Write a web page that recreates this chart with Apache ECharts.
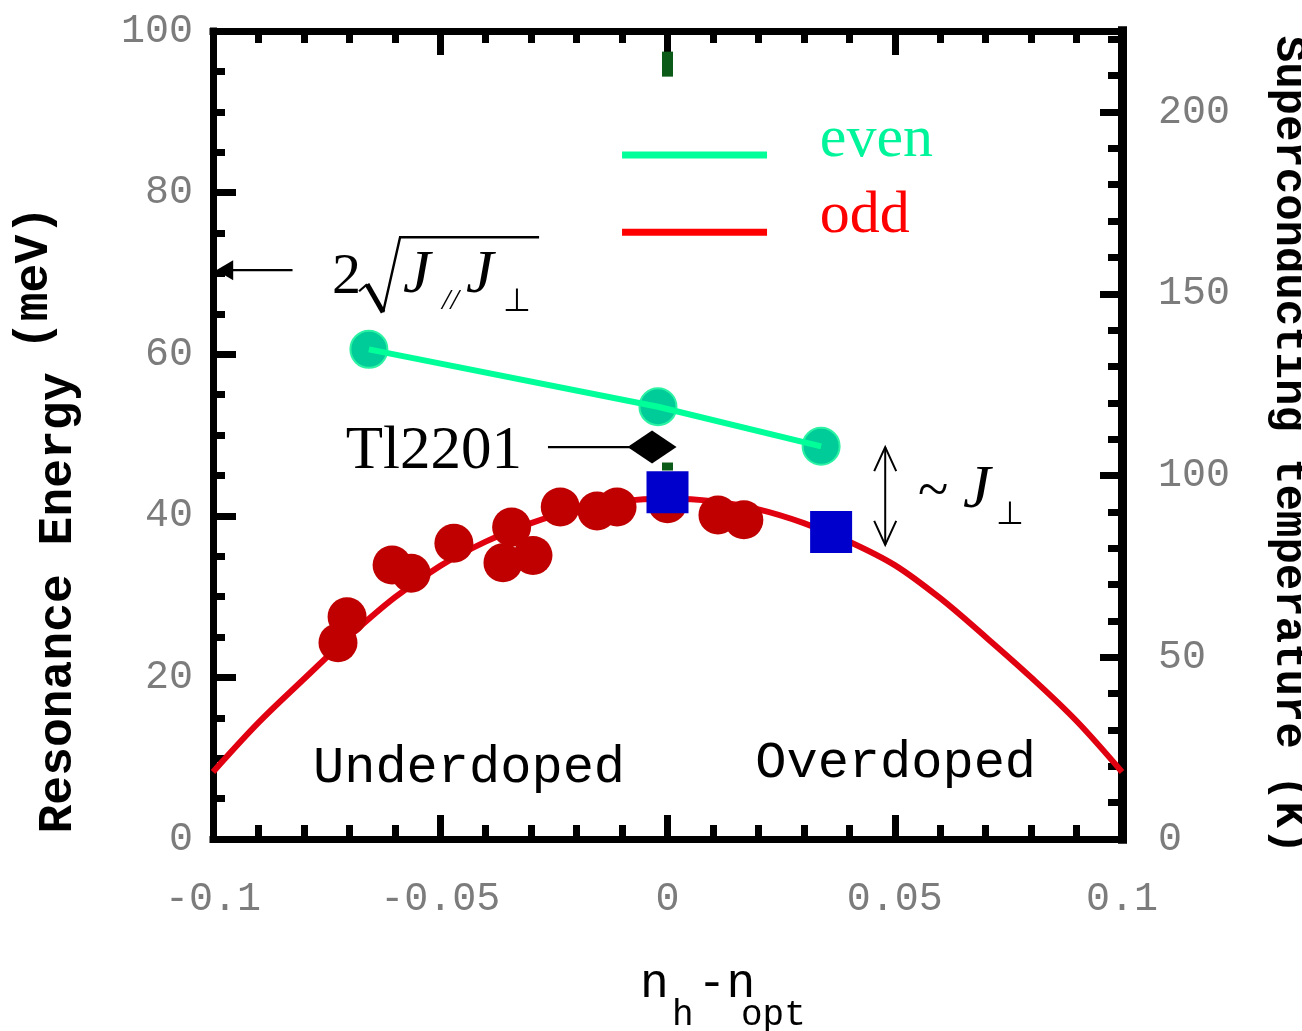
<!DOCTYPE html>
<html>
<head>
<meta charset="utf-8">
<script src="https://cdn.jsdelivr.net/npm/echarts@6/dist/echarts.min.js"></script>
<style>
  html, body { margin: 0; padding: 0; background: #ffffff; }
  #chart { width: 1302px; height: 1031px; }
</style>
</head>
<body>
<div id="chart"></div>
<script>
// Doping relative to optimal (n_h - n_opt) and resonance energies in meV

// Smooth odd-mode curve across the dome
const fitDoping = [-0.1, -0.09, -0.08, -0.07, -0.06, -0.05, -0.04, -0.03, -0.02, -0.01, 0,
                   0.01, 0.02, 0.03, 0.04, 0.05, 0.06, 0.07, 0.08, 0.09, 0.1];
const fitEnergy = [8.3, 14.4, 19.8, 25.1, 29.9, 33.8, 36.8, 39.1, 40.8, 41.8, 42.1,
                   41.8, 40.8, 39.1, 36.8, 33.9, 29.8, 25.0, 20.0, 14.6, 8.3];

// Odd-mode measurements (YBCO)
const oddDoping = [-0.0705, -0.0725, -0.0606, -0.0564, -0.047, -0.0343, -0.0362, -0.0296,
                   -0.0236, -0.0155, -0.0111, 0.0, 0.0111, 0.0168];
const oddEnergy = [27.5, 24.3, 33.9, 32.9, 36.6, 38.6, 34.2, 35.1,
                   41.1, 40.6, 41.1, 41.5, 40.1, 39.5];

// Even-mode measurements
const evenDoping = [-0.0657, -0.0021, 0.0338];
const evenEnergy = [60.6, 53.5, 48.6];

// Bi2212 odd-mode points
const squareDoping = [0.0, 0.036];
const squareEnergy = [42.9, 38.0];

// Tl2201 point
const tlDoping = [-0.0034];
const tlEnergy = [48.5];

// Short dark-green marks at optimal doping
const markDoping = [0, 0];
const markEnergy = [95.9, 46.1];

// Axis ticks
const dopingTicks = [-0.1, -0.05, 0, 0.05, 0.1];
const energyTicks = [0, 20, 40, 60, 80, 100];
const tcTicks = [0, 50, 100, 150, 200];
const tcMax = 222.3;   // Tc scale top, aligned with 100 meV

const pairs = (xs, ys) => xs.map((x, i) => [x, ys[i]]);

const mono = '"Liberation Mono", "DejaVu Sans Mono", monospace';
const serif = '"Liberation Serif", "Times New Roman", serif';
const labelGray = '#7c7c7c';

const chart = echarts.init(document.getElementById('chart'), null, { renderer: 'canvas' });

const frameLine = (w) => ({ show: true, onZero: false, lineStyle: { color: '#000', width: w, cap: 'square' } });
const majorTick = (len) => ({ show: true, inside: true, length: len, lineStyle: { color: '#000', width: 7 } });
const minorTick = (n, len) => ({ show: true, splitNumber: n, length: len, lineStyle: { color: '#000', width: 7 } });

const option = {
  animation: false,
  backgroundColor: '#ffffff',
  grid: [
    { left: 213, right: 180, top: 31, bottom: 192, containLabel: false, outerBoundsMode: 'none' },
    { left: 213, right: 180, top: 31, bottom: 192, containLabel: false, outerBoundsMode: 'none' }
  ],
  xAxis: [
    {
      type: 'value', gridIndex: 0, position: 'bottom',
      min: dopingTicks[0], max: dopingTicks[dopingTicks.length - 1], interval: 0.05,
      axisLine: frameLine(7), axisTick: majorTick(24), minorTick: minorTick(5, 14),
      splitLine: { show: false }, minorSplitLine: { show: false },
      axisLabel: { show: true, margin: 40, color: labelGray, fontFamily: mono, fontSize: 40,
                   showMinLabel: true, showMaxLabel: true, hideOverlap: false }
    },
    {
      type: 'value', gridIndex: 0, position: 'top',
      min: dopingTicks[0], max: dopingTicks[dopingTicks.length - 1], interval: 0.05,
      axisLine: frameLine(7), axisTick: majorTick(24), minorTick: minorTick(5, 12),
      splitLine: { show: false }, minorSplitLine: { show: false },
      axisLabel: { show: false }
    },
    {
      type: 'value', gridIndex: 1, position: 'bottom', show: false,
      axisLine: { onZero: false },
      min: dopingTicks[0], max: dopingTicks[dopingTicks.length - 1]
    }
  ],
  yAxis: [
    {
      type: 'value', gridIndex: 0, position: 'left',
      min: energyTicks[0], max: energyTicks[energyTicks.length - 1], interval: 20,
      axisLine: frameLine(7), axisTick: majorTick(23), minorTick: minorTick(4, 12),
      splitLine: { show: false }, minorSplitLine: { show: false },
      axisLabel: { show: true, margin: 20, color: labelGray, fontFamily: mono, fontSize: 40,
                   showMinLabel: true, showMaxLabel: true }
    },
    {
      // 10 K minor ticks on the Tc scale
      type: 'value', gridIndex: 0, position: 'right',
      min: 0, max: tcMax, interval: 10,
      axisLine: frameLine(9), axisTick: majorTick(14),
      splitLine: { show: false }, axisLabel: { show: false }
    },
    {
      // 50 K major ticks and labels on the Tc scale
      type: 'value', gridIndex: 1, position: 'right',
      min: 0, max: tcMax, interval: 50,
      axisLine: frameLine(9), axisTick: majorTick(22),
      splitLine: { show: false },
      axisLabel: {
        show: true, margin: 36, color: labelGray, fontFamily: mono, fontSize: 40,
        showMinLabel: true, showMaxLabel: true,
        formatter: (v) => (tcTicks.indexOf(Math.round(v * 1000) / 1000) >= 0 ? String(v) : '')
      }
    }
  ],
  series: [
    {
      name: 'odd fit', type: 'line', xAxisIndex: 0, yAxisIndex: 0,
      data: pairs(fitDoping, fitEnergy), smooth: 0.35, showSymbol: false, clip: true,
      lineStyle: { color: '#e0000f', width: 6 }, z: 2, silent: true
    },
    {
      name: 'odd', type: 'scatter', xAxisIndex: 0, yAxisIndex: 0,
      data: pairs(oddDoping, oddEnergy), symbol: 'circle', symbolSize: 39,
      itemStyle: { color: '#c00000', opacity: 1 }, z: 3, silent: true
    },
    {
      name: 'even points', type: 'scatter', xAxisIndex: 0, yAxisIndex: 0,
      data: pairs(evenDoping, evenEnergy), symbol: 'circle', symbolSize: 37,
      itemStyle: { color: '#00cc99', borderColor: '#2cf2a4', borderWidth: 2, opacity: 1 }, z: 3, silent: true
    },
    {
      name: 'even', type: 'line', xAxisIndex: 0, yAxisIndex: 0,
      data: pairs(evenDoping, evenEnergy), showSymbol: false,
      lineStyle: { color: '#00ff99', width: 6 }, z: 4, silent: true
    },
    {
      name: 'optimal mark', type: 'scatter', xAxisIndex: 0, yAxisIndex: 0,
      data: pairs(markDoping, markEnergy), symbol: 'rect', symbolSize: (v, p) => (p.dataIndex === 0 ? [11, 25] : [11, 8]),
      itemStyle: { color: '#0b5a17', opacity: 1 }, z: 4, silent: true
    },
    {
      name: 'Bi2212', type: 'scatter', xAxisIndex: 0, yAxisIndex: 0,
      data: pairs(squareDoping, squareEnergy), symbol: 'rect', symbolSize: 42,
      itemStyle: { color: '#0000cc', opacity: 1 }, z: 5, silent: true
    },
    {
      name: 'Tl2201', type: 'scatter', xAxisIndex: 0, yAxisIndex: 0,
      data: pairs(tlDoping, tlEnergy), symbol: 'diamond', symbolSize: [49, 33],
      itemStyle: { color: '#000000', opacity: 1 }, z: 6, silent: true
    }
  ]
};

chart.setOption(option);

// Annotations placed from data coordinates
const px = (x, e) => chart.convertToPixel({ seriesIndex: 0 }, [x, e]);
const g = [];
function txt(x, y, s, font, fill, align, extra) {
  g.push(Object.assign({
    type: 'text', x: x, y: y, z: 20, silent: true,
    style: { text: s, font: font, fill: fill || '#000', textAlign: align || 'left', textVerticalAlign: 'middle' }
  }, extra || {}));
}
function seg(x1, y1, x2, y2, w, color) {
  g.push({ type: 'line', z: 20, silent: true, shape: { x1, y1, x2, y2 },
           style: { stroke: color || '#000', lineWidth: w } });
}
function poly(points, w, closed) {
  g.push({ type: closed ? 'polygon' : 'polyline', z: 20, silent: true, shape: { points },
           style: closed ? { fill: '#000' } : { stroke: '#000', lineWidth: w, fill: null } });
}

// Legend
const lg1a = px(-0.01, 84.65), lg1b = px(0.0219, 84.65);
const lg2a = px(-0.01, 75.1), lg2b = px(0.0219, 75.1);
seg(lg1a[0], lg1a[1], lg1b[0], lg1b[1], 7, '#00ff99');
seg(lg2a[0], lg2a[1], lg2b[0], lg2b[1], 7, '#ff0000');
const lt1 = px(0.0335, 86.5), lt2 = px(0.0335, 77.1);
txt(lt1[0], lt1[1], 'even', '60px ' + serif, '#00f59a');
txt(lt2[0], lt2[1], 'odd', '60px ' + serif, '#ff0000');

// Arrow to 2*sqrt(J// J_perp) on the energy axis
const at = px(-0.0825, 70.4), ah = px(-0.0993, 70.4);
seg(at[0], at[1], ah[0] + 12, ah[1], 2.2);
poly([[ah[0], ah[1]], [ah[0] + 17, ah[1] - 10], [ah[0] + 17, ah[1] + 10]], 0, true);

// 2 sqrt(J// J_perp)
const f0 = px(-0.0738, 69.4);
txt(f0[0], f0[1], '2', '58px ' + serif);
poly([[f0[0] + 27, f0[1] + 13], [f0[0] + 35, f0[1] + 6]], 2.2);
poly([[f0[0] + 35, f0[1] + 6], [f0[0] + 51, f0[1] + 34]], 5);
poly([[f0[0] + 51, f0[1] + 34], [f0[0] + 68, f0[1] - 41], [f0[0] + 207, f0[1] - 41]], 2.4);
txt(f0[0] + 71, f0[1] - 3, 'J', 'italic 62px ' + serif);
txt(f0[0] + 110, f0[1] + 23, '//', 'italic 30px ' + serif);
txt(f0[0] + 134, f0[1] - 3, 'J', 'italic 62px ' + serif);
txt(f0[0] + 171, f0[1] + 24, '\u22A5', '32px "DejaVu Sans", sans-serif');

// Tl2201 label with pointer
const tlText = px(-0.032, 47.9);
txt(tlText[0], tlText[1], 'Tl2201', '61px ' + serif, '#000', 'right');
const tp1 = px(-0.0263, 48.5), tp2 = px(tlDoping[0], tlEnergy[0]);
seg(tp1[0], tp1[1], tp2[0] - 16, tp2[1], 2.2);

// Double arrow ~ J_perp between modes
const da = px(0.0479, 48.5), db = px(0.0479, 36.4);
seg(da[0], da[1], db[0], db[1], 2);
poly([[da[0] - 11, da[1] + 24], [da[0], da[1]], [da[0] + 11, da[1] + 24]], 2);
poly([[db[0] - 11, db[1] - 24], [db[0], db[1]], [db[0] + 11, db[1] - 24]], 2);
const jt = px(0.0551, 42.6);
txt(jt[0], jt[1] - 1, '~', '56px ' + serif);
txt(jt[0] + 45, jt[1] - 4, 'J', 'italic 62px ' + serif);
txt(jt[0] + 78, jt[1] + 21, '\u22A5', '32px "DejaVu Sans", sans-serif');

// Doping regions
const ud = px(-0.078, 8.8), od = px(0.0193, 9.4);
txt(ud[0], ud[1], 'Underdoped', '52px ' + mono, '#000');
txt(od[0], od[1], 'Overdoped', '52px ' + mono, '#000');

// Axis titles
txt(59, 603, 'Resonance Energy', 'bold 48px ' + mono, '#000', 'center', { rotation: Math.PI / 2 });
txt(35, 278, '(meV)', 'bold 48px ' + mono, '#000', 'center', { rotation: Math.PI / 2 });
txt(1288, 445, 'Superconducting temperature (K)', 'bold 44px ' + mono, '#000', 'center', { rotation: -Math.PI / 2 });
txt(640, 984, 'n -n', '48px ' + mono, '#000');
txt(672, 1015, 'h', '36px ' + mono, '#000');
txt(741, 1015, 'opt', '36px ' + mono, '#000');

chart.setOption({ graphic: { elements: g } });
</script>
</body>
</html>
